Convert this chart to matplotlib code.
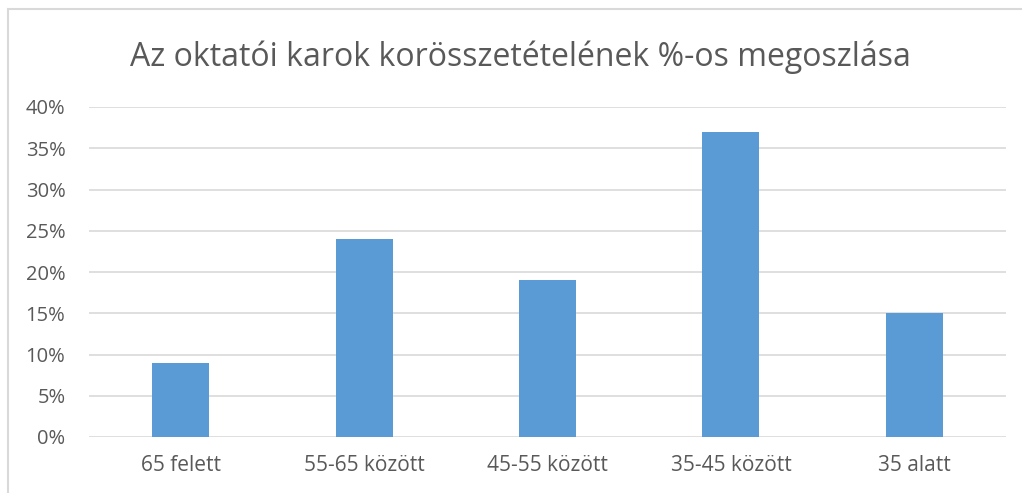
import numpy as np
import matplotlib.pyplot as plt
from matplotlib.patches import Rectangle
from matplotlib.ticker import PercentFormatter

# Data
categories = ['65 felett', '55-65 között', '45-55 között', '35-45 között', '35 alatt']
values = [9, 24, 19, 37, 15]
title = 'Az oktatói karok korösszetételének %-os megoszlása'

plt.rcParams['font.family'] = ['Open Sans', 'DejaVu Sans']
W, H = 1022, 493
fig = plt.figure(figsize=(W / 100, H / 100), dpi=100)

# chart border (Excel-like frame)
fig.patches.append(Rectangle((8 / W, -0.1), 1.2, 1 - 9 / H + 0.1, transform=fig.transFigure,
                             fill=False, edgecolor='#d9d9d9', linewidth=1.5))

ax = fig.add_axes([89 / W, 56 / H, (1006 - 89) / W, (437 - 107) / H])
x = np.arange(len(categories))
ax.bar(x, values, width=0.31, color='#5b9bd5', zorder=3)

ax.set_xlim(-0.5, len(categories) - 0.5)
ax.set_ylim(0, 40)
ax.set_yticks(np.arange(0, 41, 5))
ax.yaxis.set_major_formatter(PercentFormatter(decimals=0))
ax.set_xticks(x)
ax.set_xticklabels(categories)
ax.grid(axis='y', color='#d9d9d9', linewidth=1.2, zorder=0)
for s in ax.spines.values():
    s.set_visible(False)
ax.tick_params(length=0, labelcolor='#595959')
ax.tick_params(axis='y', labelsize=14.5, pad=17)
ax.tick_params(axis='x', labelsize=15, pad=13)

fig.text(0.509, 1 - 57 / H, title, ha='center', va='center', fontsize=23, color='#595959')

fig.savefig('out.png', dpi=100)
